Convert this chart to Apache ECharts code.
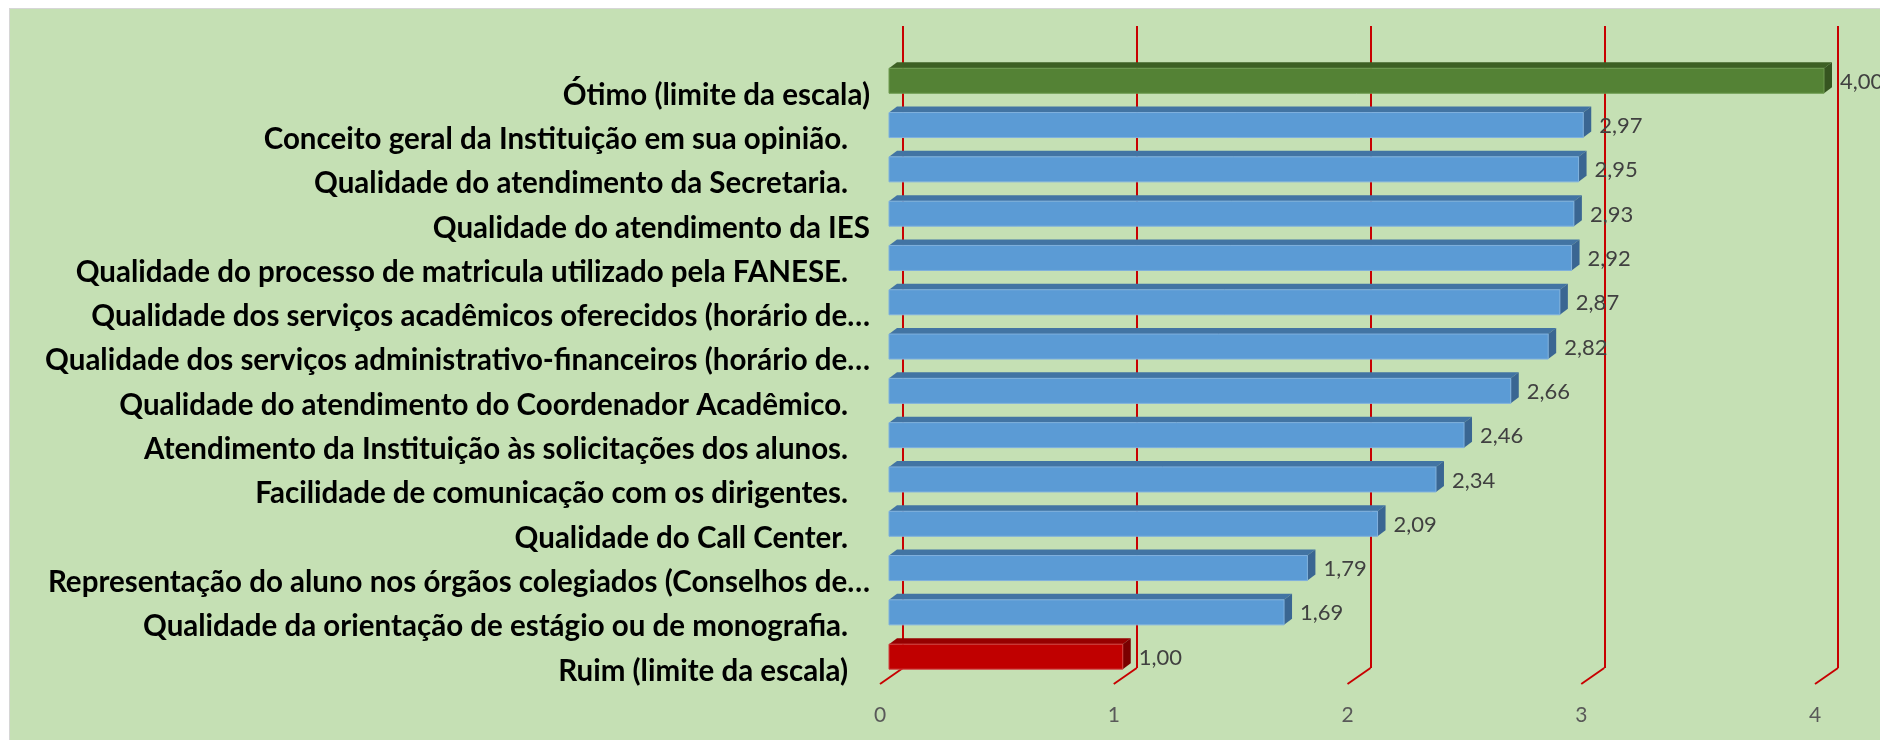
<!DOCTYPE html>
<html>
<head>
<meta charset="utf-8">
<script src="https://cdn.jsdelivr.net/npm/echarts@6/dist/echarts.min.js"></script>
<style>
html,body{margin:0;padding:0;background:#ffffff;}
#bg{position:absolute;left:9px;top:8px;width:1871px;height:732px;background:#C5E0B4;border-left:1px solid #d6d6d6;border-top:1px solid #d6d6d6;box-sizing:border-box;}
#chart{position:absolute;left:0;top:0;width:1880px;height:740px;}
</style>
</head>
<body>
<div id="bg"></div>
<div id="chart"></div>
<script>
// ---- data ----
const categories = [
  'Ótimo (limite da escala)',
  'Conceito geral da Instituição em sua opinião. ',
  'Qualidade do atendimento da Secretaria. ',
  'Qualidade do atendimento da IES',
  'Qualidade do processo de matricula utilizado pela FANESE. ',
  'Qualidade dos serviços acadêmicos oferecidos (horário de…',
  'Qualidade dos serviços administrativo-financeiros (horário de…',
  'Qualidade do atendimento do Coordenador Acadêmico. ',
  'Atendimento da Instituição às solicitações dos alunos. ',
  'Facilidade de comunicação com os dirigentes. ',
  'Qualidade do Call Center. ',
  'Representação do aluno nos órgãos colegiados (Conselhos de…',
  'Qualidade da orientação de estágio ou de monografia. ',
  'Ruim (limite da escala) '
];
const values = [4.00, 2.97, 2.95, 2.93, 2.92, 2.87, 2.82, 2.66, 2.46, 2.34, 2.09, 1.79, 1.69, 1.00];
const axisTicks = [0, 1, 2, 3, 4];
const axisMin = 0, axisMax = 4;

// ---- styles ----
const palettes = {
  top:    {front:'#548235', top:'#3D6024', side:'#365520', edge:'#6E9A50'},
  middle: {front:'#5B9BD5', top:'#4274A3', side:'#3A6692', edge:'#7FB0DE'},
  bottom: {front:'#C00000', top:'#960000', side:'#7A0000', edge:'#D04040'}
};
const RED = '#C80000';
const FACE_H = 25, DX = 8, DY = 6;

const chart = echarts.init(document.getElementById('chart'), null, {renderer:'canvas'});

const barData = values.map((v, i) => [v, i]);
const tickData = axisTicks.map(t => [t, 0]);

function fmt(v){ return v.toFixed(2).replace('.', ','); }

const option = {
  backgroundColor: 'transparent',
  animation: false,
  grid: [
    {left: 889, width: 935, top: 58.6, height: 620.2},   // bars
    {left: 903, width: 935, top: 26, height: 642},       // back wall gridlines
    {left: 880, width: 935, top: 26, height: 658},       // front floor labels
    {left: 889, width: 935, top: 73, height: 620.2}      // category labels
  ],
  xAxis: [
    {gridIndex:0, type:'value', min:axisMin, max:axisMax, interval:1, show:false},
    {gridIndex:1, type:'value', min:axisMin, max:axisMax, interval:1,
      axisLine:{show:false}, axisTick:{show:false}, axisLabel:{show:false},
      splitLine:{show:true, lineStyle:{color:RED, width:2}}},
    {gridIndex:2, type:'value', min:axisMin, max:axisMax, interval:1,
      axisLine:{show:false}, axisTick:{show:false}, splitLine:{show:false},
      axisLabel:{show:true, margin:21, fontSize:21, color:'#595959', fontFamily:'Lato'}},
    {gridIndex:3, type:'value', min:axisMin, max:axisMax, show:false}
  ],
  yAxis: [
    {gridIndex:0, type:'category', data:categories, inverse:true, show:false},
    {gridIndex:1, type:'value', min:0, max:1, show:false},
    {gridIndex:2, type:'value', min:0, max:1, show:false},
    {gridIndex:3, type:'category', data:categories, inverse:true,
      axisLine:{show:false}, axisTick:{show:false}, splitLine:{show:false},
      axisLabel:{show:true, margin:19, fontSize:29.5, fontWeight:'bold', color:'#000000', fontFamily:'Lato',
        formatter: s => s.endsWith(' ') ? s + '\u2002' : s}}
  ],
  series: [
    {
      type:'custom', xAxisIndex:1, yAxisIndex:1, data: tickData, z:1, silent:true,
      renderItem: (params, api) => {
        const p = api.coord([api.value(0), 0]);
        return {type:'line', shape:{x1:p[0], y1:p[1], x2:p[0]-23, y2:p[1]+16},
          style:{stroke:RED, lineWidth:2}};
      }
    },
    {
      type:'custom', xAxisIndex:0, yAxisIndex:0, data: barData, z:3, silent:true,
      renderItem: (params, api) => {
        const v = api.value(0), idx = api.value(1);
        const p0 = api.coord([0, idx]);
        const p1 = api.coord([v, idx]);
        const x0 = p0[0], x1 = p1[0], yc = p1[1];
        const top = yc - FACE_H/2;
        const pal = idx === 0 ? palettes.top : (idx === values.length-1 ? palettes.bottom : palettes.middle);
        return {type:'group', children:[
          {type:'polygon', shape:{points:[[x0,top],[x0+DX,top-DY],[x1+DX,top-DY],[x1,top]]},
            style:{fill:pal.top}},
          {type:'polygon', shape:{points:[[x1,top],[x1+DX,top-DY],[x1+DX,top-DY+FACE_H],[x1,top+FACE_H]]},
            style:{fill:pal.side}},
          {type:'rect', shape:{x:x0, y:top, width:x1-x0, height:FACE_H},
            style:{fill:pal.front, stroke:pal.edge, lineWidth:1}},
          {type:'text', x:x1+DX+8, y:yc+1,
            style:{text:fmt(v), fill:'#404040', fontSize:22, fontFamily:'Lato', verticalAlign:'middle', align:'left'}}
        ]};
      }
    }
  ]
};
chart.setOption(option);
</script>
</body>
</html>
